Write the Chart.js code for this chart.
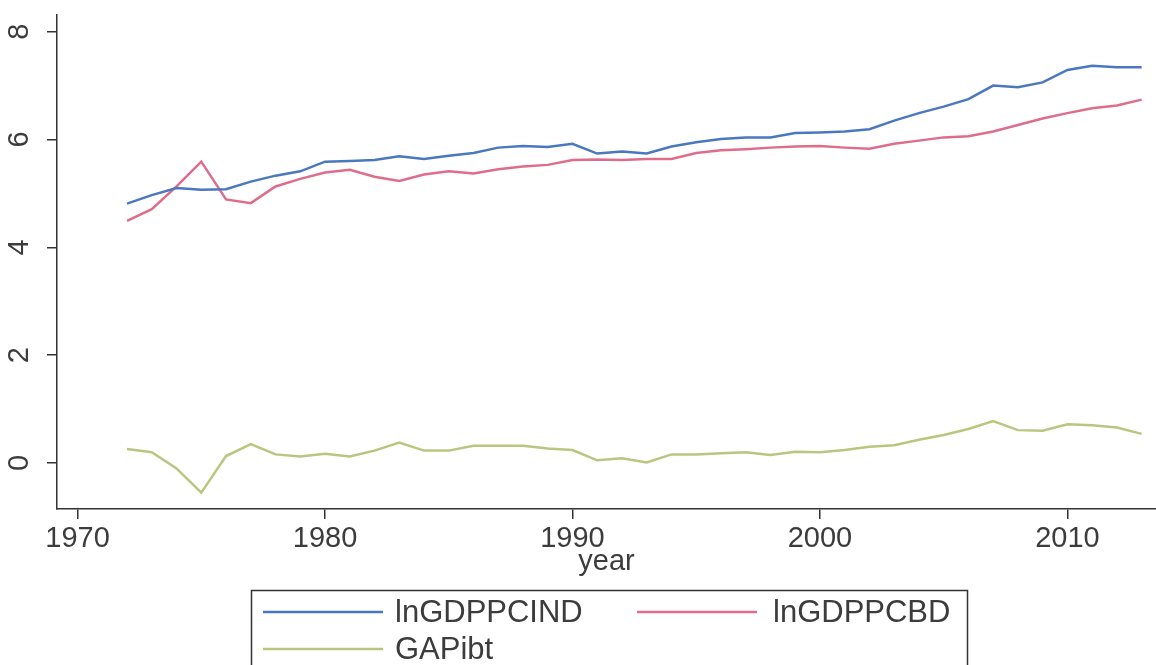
<!DOCTYPE html>
<html>
<head>
<meta charset="utf-8">
<script src="https://cdn.jsdelivr.net/npm/chart.js@4/dist/chart.umd.min.js"></script>
<style>
  html, body { margin: 0; padding: 0; background: #fff; }
  canvas { display: block; }
</style>
</head>
<body>
<canvas id="chart" width="1156" height="665"></canvas>
<script>
// years on the x axis
const years = [
  1972, 1973, 1974, 1975, 1976, 1977, 1978, 1979, 1980, 1981,
  1982, 1983, 1984, 1985, 1986, 1987, 1988, 1989, 1990, 1991,
  1992, 1993, 1994, 1995, 1996, 1997, 1998, 1999, 2000, 2001,
  2002, 2003, 2004, 2005, 2006, 2007, 2008, 2009, 2010, 2011,
  2012, 2013
];

const lnGDPPCIND = [
  4.81, 4.97, 5.10, 5.07, 5.08, 5.22, 5.33, 5.41, 5.59, 5.60,
  5.62, 5.69, 5.64, 5.70, 5.75, 5.85, 5.88, 5.86, 5.92, 5.74,
  5.78, 5.74, 5.87, 5.95, 6.01, 6.04, 6.04, 6.12, 6.13, 6.15,
  6.19, 6.35, 6.49, 6.61, 6.75, 7.00, 6.97, 7.06, 7.29, 7.37,
  7.34, 7.34
];

const lnGDPPCBD = [
  4.49, 4.71, 5.13, 5.59, 4.89, 4.82, 5.13, 5.27, 5.39, 5.44,
  5.31, 5.23, 5.35, 5.41, 5.37, 5.45, 5.50, 5.53, 5.62, 5.63,
  5.62, 5.64, 5.64, 5.75, 5.80, 5.82, 5.85, 5.87, 5.88, 5.85,
  5.83, 5.92, 5.98, 6.04, 6.06, 6.15, 6.27, 6.39, 6.49, 6.58,
  6.63, 6.74
];

const GAPibt = [
  0.26, 0.20, -0.10, -0.55, 0.13, 0.35, 0.16, 0.12, 0.17, 0.12,
  0.23, 0.38, 0.23, 0.23, 0.32, 0.32, 0.32, 0.27, 0.24, 0.05,
  0.09, 0.01, 0.16, 0.16, 0.18, 0.20, 0.15, 0.21, 0.20, 0.24,
  0.30, 0.33, 0.43, 0.52, 0.63, 0.78, 0.61, 0.60, 0.72, 0.70,
  0.66, 0.54
];

const xTicks = [1970, 1980, 1990, 2000, 2010];
const yTicks = [0, 2, 4, 6, 8];

const seriesNames = ['lnGDPPCIND', 'lnGDPPCBD', 'GAPibt'];
const seriesColors = ['#4a78bf', '#de6d8c', '#bac67f'];

const textColor = '#3c3c3c';
const axisColor = '#333';
const fontFamily = '"Liberation Sans", Arial, sans-serif';

function points(values) {
  return years.map((yr, i) => ({ x: yr, y: values[i] }));
}

// Stata-style boxed legend under the axis title
const boxLegend = {
  id: 'boxLegend',
  afterDraw(chart) {
    let ctx = chart.ctx;
    let sets = chart.data.datasets;
    let slots = [
      { lx: 263, tx: 395, y: 612 },
      { lx: 637, tx: 773, y: 612 },
      { lx: 263, tx: 395, y: 649 }
    ];
    ctx.save();
    ctx.strokeStyle = axisColor;
    ctx.lineWidth = 1.5;
    ctx.strokeRect(251.5, 590.5, 716, 100);
    ctx.font = '31px ' + fontFamily;
    ctx.textBaseline = 'middle';
    ctx.fillStyle = textColor;
    sets.forEach((ds, i) => {
      let s = slots[i];
      ctx.strokeStyle = ds.borderColor;
      ctx.lineWidth = 2.5;
      ctx.beginPath();
      ctx.moveTo(s.lx, s.y);
      ctx.lineTo(s.lx + 120, s.y);
      ctx.stroke();
      ctx.fillText(ds.label, s.tx, s.y + 1);
    });
    ctx.restore();
  }
};

let chart = new Chart(document.getElementById('chart'), {
  type: 'line',
  data: {
    datasets: seriesNames.map((name, i) => ({
      label: name,
      data: points([lnGDPPCIND, lnGDPPCBD, GAPibt][i]),
      borderColor: seriesColors[i],
      backgroundColor: seriesColors[i],
      borderWidth: 2.5,
      pointRadius: 0,
      tension: 0,
      fill: false
    }))
  },
  options: {
    responsive: false,
    animation: false,
    layout: { padding: { top: 15, right: 0, bottom: 80, left: 0 } },
    plugins: {
      legend: { display: false },
      tooltip: { enabled: false }
    },
    scales: {
      x: {
        type: 'linear',
        min: 1969.17,
        max: 2013.58,
        afterBuildTicks: (scale) => { scale.ticks = xTicks.map(v => ({ value: v })); },
        afterFit: (scale) => {
          scale.height = 76;
          scale.paddingLeft = 0;
          scale.paddingRight = 0;
        },
        grid: { drawOnChartArea: false, drawTicks: true, tickLength: 10, color: axisColor, lineWidth: 1.5 },
        border: { color: axisColor, width: 1.5 },
        ticks: {
          padding: 3,
          maxRotation: 0,
          color: textColor,
          font: { family: fontFamily, size: 29 },
          callback: (v) => String(v)
        },
        title: {
          display: true,
          text: 'year',
          color: textColor,
          font: { family: fontFamily, size: 29 },
          padding: { top: 0, bottom: 6 }
        }
      },
      y: {
        type: 'linear',
        min: -0.853,
        max: 8.31,
        afterBuildTicks: (scale) => { scale.ticks = yTicks.map(v => ({ value: v })); },
        afterFit: (scale) => {
          scale.width = 57;
          scale.paddingTop = 0;
          scale.paddingBottom = 0;
        },
        grid: { drawOnChartArea: false, drawTicks: true, tickLength: 10, color: axisColor, lineWidth: 1.5 },
        border: { color: axisColor, width: 1.5 },
        ticks: {
          minRotation: 90,
          maxRotation: 90,
          crossAlign: 'center',
          padding: 19,
          color: textColor,
          font: { family: fontFamily, size: 29 },
          callback: (v) => String(v)
        }
      }
    }
  },
  plugins: [boxLegend]
});
</script>
</body>
</html>
